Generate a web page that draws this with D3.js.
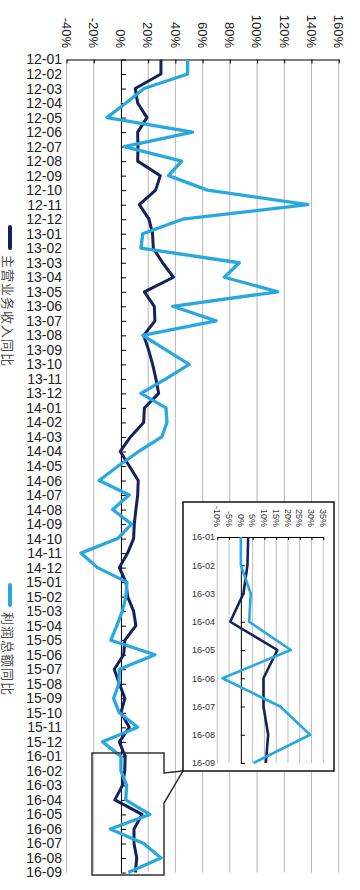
<!DOCTYPE html>
<html><head><meta charset="utf-8">
<script src="https://cdn.jsdelivr.net/npm/d3@7"></script>
<style>
body{margin:0;background:#fff;}
svg{display:block;font-family:Arial,"Liberation Sans",sans-serif;}
</style>
</head><body><svg id="c" width="360" height="890"></svg>
<script>
const categories = ["12-01","12-02","12-03","12-04","12-05","12-06","12-07","12-08","12-09","12-10","12-11","12-12",
"13-01","13-02","13-03","13-04","13-05","13-06","13-07","13-08","13-09","13-10","13-11","13-12",
"14-01","14-02","14-03","14-04","14-05","14-06","14-07","14-08","14-09","14-10","14-11","14-12",
"15-01","15-02","15-03","15-04","15-05","15-06","15-07","15-08","15-09","15-10","15-11","15-12",
"16-01","16-02","16-03","16-04","16-05","16-06","16-07","16-08","16-09"];
const revenueYoY = [29.4,29.4,10.5,12.3,19.1,12.3,12.5,12.3,28.9,25.5,13.5,20.6,
23.2,23.8,30.6,38.6,17.2,24.5,25,16.7,20.3,23.3,25.7,27.7,
17.2,16.7,7,-0.5,6.1,12.7,12.3,11,9.8,9.3,4.9,-1.2,
3.7,4.9,9.3,11,2.9,2,-4.9,-1.2,2.9,0,6.1,-1.2,
3.1,2.8,1.1,-4.5,15.5,9.6,9.6,11.6,10.6];
const profitYoY = [49,49,17,3.7,-10.3,52.7,2.5,44.6,35,63.5,137.3,45.3,
16,14.7,87,76,115.2,38,70,16,33,50.2,33,14.7,
33.1,33.8,30,13,-2,-16,6.1,-6.1,7.8,-2.5,-29.4,-17.2,
4.4,3.7,1,-3,-7.4,25,-1.2,-1.5,-5.4,-1.2,12.3,-13.5,
0,0,4.2,3.5,21.2,-7.8,16.7,29.4,5.4];
const valueTicks = [-40,-20,0,20,40,60,80,100,120,140,160];
const insetCategories = ["16-01","16-02","16-03","16-04","16-05","16-06","16-07","16-08","16-09"];
const insetTicks = [-10,-5,0,5,10,15,20,25,30,35];
const seriesNames = ["主营业务收入同比","利润总额同比"];
const seriesColors = ["#14215a","#27a8e0"];

const svg = d3.select("#c");
const x = d3.scaleLinear().domain([-40,160]).range([66.5,338.7]);
const y = d3.scalePoint().domain(categories).range([59.5,872.5]);
const y0 = y(categories[0]), y1 = y(categories[categories.length-1]);

// gridlines
svg.append("g").selectAll("line").data(valueTicks.filter(d=>d!==0)).join("line")
  .attr("x1",d=>x(d)).attr("x2",d=>x(d)).attr("y1",y0).attr("y2",y1)
  .attr("stroke","#b9b9b9").attr("stroke-width",1);

// top value axis
const topAxis = svg.append("g").attr("transform",`translate(0,${y0})`)
  .call(d3.axisTop(x).tickValues(valueTicks).tickSizeInner(-4).tickSizeOuter(0).tickFormat(""));
topAxis.select(".domain").attr("stroke","#000");
topAxis.selectAll(".tick line").attr("stroke","#000");
svg.append("g").selectAll("text").data(valueTicks).join("text")
  .attr("transform",d=>`translate(${x(d)},48) rotate(90)`)
  .attr("text-anchor","end").attr("dy","0.36em")
  .attr("font-size",13).attr("fill","#222").text(d=>d+"%");

// zero axis with ticks
const zAxis = svg.append("g").attr("transform",`translate(${x(0)},0)`)
  .call(d3.axisRight(y).tickSizeInner(5).tickSizeOuter(0).tickFormat(""));
zAxis.select(".domain").attr("stroke","#000");
zAxis.selectAll(".tick line").attr("stroke","#000");

// category labels
const cAxis = svg.append("g").attr("transform",`translate(62,0)`)
  .call(d3.axisLeft(y).tickSize(0).tickPadding(0));
cAxis.select(".domain").remove();
cAxis.selectAll("text").attr("font-size",14).attr("fill","#222").attr("font-family","Arial, 'Liberation Sans', sans-serif");

// lines
const line = d3.line().x(d=>x(d.v)).y(d=>y(d.c));
[revenueYoY, profitYoY].forEach((arr,i)=>{
  svg.append("path").datum(categories.map((c,j)=>({c,v:arr[j]})))
    .attr("d",line).attr("fill","none").attr("stroke",seriesColors[i])
    .attr("stroke-width",i===0?3:3.3).attr("stroke-linejoin","round");
});

// legend
const legendPos = [{b0:225,b1:250,t:255},{b0:583,b1:607,t:612}];
seriesNames.forEach((n,i)=>{
  const p = legendPos[i];
  svg.append("line").attr("x1",10).attr("x2",10).attr("y1",p.b0+2).attr("y2",p.b1-2)
    .attr("stroke",seriesColors[i]).attr("stroke-width",4).attr("stroke-linecap","round");
  svg.append("text").attr("transform",`translate(8,${p.t}) rotate(90)`)
    .attr("dominant-baseline","central").attr("font-family","'Noto Sans CJK SC', sans-serif")
    .attr("font-size",13).attr("letter-spacing",1).attr("fill","#4a4a4a").text(n);
});

// callout frame
svg.append("path").attr("d","M92,753H164V773L183,771L164,803V875H92Z")
  .attr("fill","none").attr("stroke","#333").attr("stroke-width",1.5);

// inset
svg.append("rect").attr("x",183).attr("y",502).attr("width",151).attr("height",269)
  .attr("fill","#fff").attr("stroke","#111").attr("stroke-width",1.5);
const ix = d3.scaleLinear().domain([-10,35]).range([217.3,323.3]);
const iy = d3.scalePoint().domain(insetCategories).range([537,763]);
svg.append("g").selectAll("line").data(insetTicks.filter(d=>d!==0)).join("line")
  .attr("x1",d=>ix(d)).attr("x2",d=>ix(d)).attr("y1",iy.range()[0]).attr("y2",iy.range()[1])
  .attr("stroke","#bdbdbd").attr("stroke-width",1);
const itop = svg.append("g").attr("transform",`translate(0,${iy.range()[0]})`)
  .call(d3.axisTop(ix).tickValues(insetTicks).tickSizeInner(-3).tickSizeOuter(0).tickFormat(""));
itop.select(".domain").attr("stroke","#000");
itop.selectAll(".tick line").attr("stroke","#000");
svg.append("g").selectAll("text").data(insetTicks).join("text")
  .attr("transform",d=>`translate(${ix(d)},527) rotate(90)`)
  .attr("text-anchor","end").attr("dy","0.36em")
  .attr("font-size",9).attr("fill","#333").text(d=>d+"%");
const iz = svg.append("g").attr("transform",`translate(${ix(0)},0)`)
  .call(d3.axisRight(iy).tickSizeInner(4).tickSizeOuter(0).tickFormat(""));
iz.select(".domain").attr("stroke","#000");
iz.selectAll(".tick line").attr("stroke","#000");
const icAxis = svg.append("g").attr("transform",`translate(215,0)`)
  .call(d3.axisLeft(iy).tickSize(0).tickPadding(0));
icAxis.select(".domain").remove();
icAxis.selectAll("text").attr("font-size",9).attr("fill","#333").attr("font-family","Arial, 'Liberation Sans', sans-serif");
const iline = d3.line().x(d=>ix(d.v)).y(d=>iy(d.c));
const off = categories.indexOf(insetCategories[0]);
[revenueYoY, profitYoY].forEach((arr,i)=>{
  svg.append("path").datum(insetCategories.map((c,j)=>({c,v:arr[off+j]})))
    .attr("d",iline).attr("fill","none").attr("stroke",seriesColors[i])
    .attr("stroke-width",2.6).attr("stroke-linejoin","round");
});
</script>
</body></html>
